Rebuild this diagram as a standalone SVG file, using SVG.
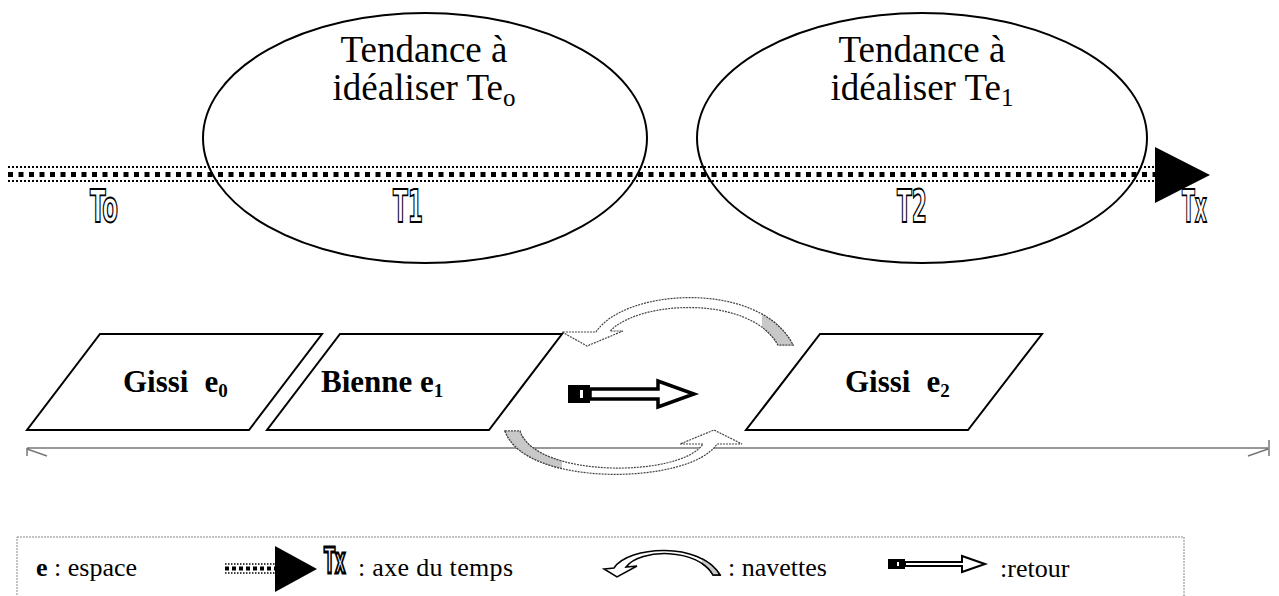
<svg xmlns="http://www.w3.org/2000/svg" width="1279" height="596" viewBox="0 0 1279 596">
<defs>
<style>
.ax{font-family:"DejaVu Sans Condensed","DejaVu Sans",sans-serif;font-weight:bold;fill:#fff;stroke:#000;stroke-width:1.9}
.ser{font-family:"Liberation Serif","Times New Roman",serif;fill:#000}
.big{font-size:37px}
.sub{font-size:25px}
.pl{font-size:31px;font-weight:bold}
.plsub{font-size:19px;font-weight:bold}
.lg{font-size:26px}
.para{fill:#fff;stroke:#000;stroke-width:2}
.ell{fill:none;stroke:#000;stroke-width:2}
.nav{fill:#fff;stroke:#444;stroke-width:1.2;stroke-dasharray:2 1}
.navg{fill:#c8c8c8;stroke:#444;stroke-width:1.2;stroke-dasharray:2 1}
.navl{fill:#fff;stroke:#000;stroke-width:1.5}
.navlg{fill:#c8c8c8;stroke:#000;stroke-width:1.5}
.dots{stroke:#000;stroke-width:2;stroke-dasharray:2 2}
.sq{stroke:#000;stroke-width:5;stroke-dasharray:5 5.5}
</style>
<clipPath id="cpUp"><rect x="762" y="280" width="60" height="80"/></clipPath>
<clipPath id="cpLo"><rect x="490" y="420" width="72" height="70"/></clipPath>
<clipPath id="cpLg"><rect x="702" y="530" width="30" height="60"/></clipPath>
</defs>

<g id="time-axis">
<line class="dots" x1="8" y1="167" x2="1155" y2="167"/>
<line class="sq" x1="8" y1="174.5" x2="1155" y2="174.5"/>
<line class="dots" x1="8" y1="181" x2="1155" y2="181"/>
<polygon points="1155,147 1210,175 1155,203" fill="#000"/>
<text class="ax" x="90" y="222" font-size="45" textLength="28" lengthAdjust="spacingAndGlyphs">To</text>
<text class="ax" x="393" y="222" font-size="45" textLength="30" lengthAdjust="spacingAndGlyphs">T1</text>
<text class="ax" x="897" y="222" font-size="45" textLength="30" lengthAdjust="spacingAndGlyphs">T2</text>
<text class="ax" x="1182" y="222" font-size="45" textLength="25" lengthAdjust="spacingAndGlyphs">Tx</text>
</g>

<g id="ellipse1">
<ellipse class="ell" cx="425" cy="138" rx="222" ry="125"/>
<text class="ser big" x="424" y="62" text-anchor="middle">Tendance à</text>
<text class="ser big" x="424" y="100" text-anchor="middle">idéaliser Te<tspan class="sub" dy="6">o</tspan></text>
</g>

<g id="ellipse2">
<ellipse class="ell" cx="922" cy="138" rx="225" ry="125"/>
<text class="ser big" x="922" y="62" text-anchor="middle">Tendance à</text>
<text class="ser big" x="922" y="100" text-anchor="middle">idéaliser Te<tspan class="sub" dy="6">1</tspan></text>
</g>

<g id="baseline">
<path d="M27,448 H1268 M27,448 V456 M27,449 L47,456 M1268,449 L1248,456 M1269,440 V456" fill="none" stroke="#777" stroke-width="1.5"/>
</g>

<g id="gissi-e0">
<polygon class="para" points="100,334 322,334 249,430 27,430"/>
<text class="ser pl" x="123" y="392">Gissi<tspan dx="16">e</tspan><tspan class="plsub" dy="5">0</tspan></text>
</g>

<g id="bienne-e1">
<polygon class="para" points="340,334 562,334 489,430 267,430"/>
<text class="ser pl" x="321" y="392">Bienne e<tspan class="plsub" dy="5">1</tspan></text>
</g>

<g id="gissi-e2">
<polygon class="para" points="820,334 1042,334 968,430 746,430"/>
<text class="ser pl" x="845" y="392">Gissi<tspan dx="16">e</tspan><tspan class="plsub" dy="5">2</tspan></text>
</g>

<g id="connectors">
<g id="navette-up">
<path class="nav" d="M596,332 C625,288 760,280 793,345 L778,345 C750,295 640,300 610,331 L623,331 L587,346 L562,332 Z"/>
<path class="navg" clip-path="url(#cpUp)" d="M596,332 C625,288 760,280 793,345 L778,345 C750,295 640,300 610,331 Z"/>
</g>
<g id="navette-down">
<path class="nav" d="M505,431 C525,488 690,485 717,444 L742,444 L714,430 L680,444 L703,444 C680,478 535,478 520,431 Z"/>
<path class="navg" clip-path="url(#cpLo)" d="M505,431 C525,488 690,485 717,444 L703,444 C680,478 535,478 520,431 Z"/>
</g>
<g id="retour">
<rect x="568" y="385" width="22" height="18" fill="#000"/>
<rect x="580" y="390" width="3" height="8" fill="#fff"/>
<path d="M590,389 H658 V381 L694,394 L658,407 V399 H590 Z" fill="#fff" stroke="#000" stroke-width="3.5"/>
</g>
</g>

<g id="legend">
<rect x="17" y="537" width="1167" height="80" fill="none" stroke="#888" stroke-width="1" stroke-dasharray="2 1"/>
<text class="ser lg" x="36" y="576"><tspan font-weight="bold">e</tspan> : espace</text>
<line x1="225" y1="564" x2="275" y2="564" stroke="#000" stroke-width="1.5" stroke-dasharray="1.5 1.5"/>
<line x1="225" y1="568.5" x2="275" y2="568.5" stroke="#000" stroke-width="4" stroke-dasharray="4 3"/>
<line x1="225" y1="573" x2="275" y2="573" stroke="#000" stroke-width="1.5" stroke-dasharray="1.5 1.5"/>
<polygon points="275,546 317,569 275,592" fill="#000"/>
<text class="ax" transform="translate(324,573) scale(0.5,1)" x="0" y="0" font-size="36" style="stroke-width:3">Tx</text>
<text class="ser lg" x="358" y="576" textLength="155" lengthAdjust="spacing">: axe du temps</text>
<path class="navl" d="M614,568 C628,546 700,541 720,575 L713,575 C698,548 640,548 626,567 L637,566 L617,577 L604,569 Z"/>
<path class="navlg" clip-path="url(#cpLg)" d="M614,568 C628,546 700,541 720,575 L713,575 C698,548 640,548 626,567 Z"/>
<text class="ser lg" x="728" y="576">: navettes</text>
<rect x="888" y="559" width="17" height="10" fill="#000"/>
<rect x="897" y="562" width="2" height="4" fill="#fff"/>
<path d="M905,562 H962 V556 L985,564 L962,572 V566 H905 Z" fill="#fff" stroke="#000" stroke-width="2"/>
<text class="ser lg" x="1000" y="577">:retour</text>
</g>
</svg>
